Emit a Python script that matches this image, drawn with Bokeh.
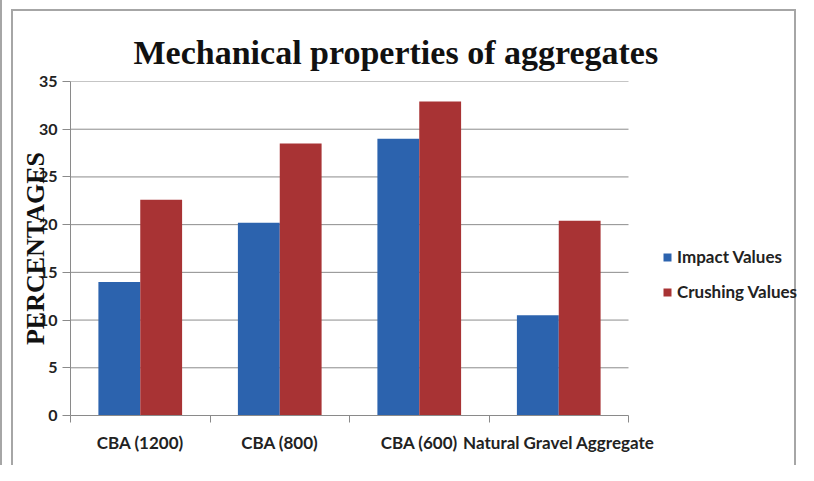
import numpy as np
from bokeh.plotting import figure
from bokeh.models import (ColumnDataSource, FixedTicker, Range1d, Legend)
from bokeh.transform import dodge
from bokeh.embed import file_html
from bokeh.resources import INLINE

categories = ["CBA (1200)", "CBA (800)", "CBA (600)", "Natural Gravel Aggregate"]
impact_values = [14.0, 20.2, 29.0, 10.5]
crushing_values = [22.6, 28.5, 32.9, 20.4]
y_ticks = [0, 5, 10, 15, 20, 25, 30, 35]
title_text = "Mechanical properties of aggregates"
y_label_text = "PERCENTAGES"

n = len(categories)
y_max = 35
xc = list(np.arange(n) + 0.5)
source = ColumnDataSource(dict(x=xc, impact=impact_values, crushing=crushing_values))
grid_src = ColumnDataSource(dict(y=y_ticks[1:]))

W, H = 798, 465
left, bottom, top = 70, 50, 81
plot_w = 558                      # pixel width of the value area (0..n)
# frame spans to the right edge so that the legend (inside the frame) is not clipped
x_end = n * (W - left) / plot_w

p = figure(width=W, height=H, output_backend="svg", toolbar_location=None,
           x_range=Range1d(0, x_end), y_range=Range1d(0, y_max),
           min_border_left=left, min_border_right=0, min_border_top=top,
           min_border_bottom=bottom)
p.outline_line_color = None
p.border_fill_color = None
p.background_fill_color = None
line_grey = "linear-gradient(#a6a6a6,#a6a6a6)"
p.styles = {
    "background-color": "white",
    "background-image": ",".join([line_grey] * 3),
    "background-size": "2px 460px, 785px 2px, 2px 460px",
    "background-position": "11px 9px, 11px 9px, 794px 9px",
    "background-repeat": "no-repeat",
    "box-shadow": "inset 13px 0 0 -11px #a6a6a6",
}

blue = "#2C63AE"
red = "#A83334"
p.segment(x0=0, x1=n, y0="y", y1="y", source=grid_src, line_color="#8c8c8c", line_width=1)
r1 = p.vbar(x=dodge("x", -0.15, range=p.x_range), top="impact", width=0.3, source=source,
            fill_color=blue, line_color=None)
r2 = p.vbar(x=dodge("x", 0.15, range=p.x_range), top="crushing", width=0.3, source=source,
            fill_color=red, line_color=None)

# title (in the panel above the frame)
p.title.text = title_text
p.title.text_font = "Liberation Serif"
p.title.text_font_style = "bold"
p.title.text_font_size = "34px"
p.title.text_color = "#111111"
p.title.align = "left"
p.title.offset = 63
p.title.standoff = 22

# x axis
p.xaxis.bounds = (0, n)
p.xaxis.ticker = FixedTicker(ticks=xc, minor_ticks=list(range(n + 1)))
p.xaxis.major_label_overrides = {float(x): c for x, c in zip(xc, categories)}
p.xaxis.major_tick_out = 0
p.xaxis.major_tick_in = 0
p.xaxis.minor_tick_out = 7
p.xaxis.minor_tick_in = 0
p.xaxis.minor_tick_line_color = "#8a8a8a"
p.xaxis.axis_line_color = "#8a8a8a"
p.xaxis.major_label_text_font = "Lato"
p.xaxis.major_label_text_font_style = "bold"
p.xaxis.major_label_text_font_size = "17px"
p.xaxis.major_label_text_color = "#222222"
p.xaxis.major_label_standoff = 9
p.xgrid.grid_line_color = None

# y axis
p.yaxis.ticker = FixedTicker(ticks=y_ticks, minor_ticks=[])
p.yaxis.major_tick_out = 8
p.yaxis.major_tick_in = 0
p.yaxis.major_tick_line_color = "#8a8a8a"
p.yaxis.axis_line_color = "#8a8a8a"
p.yaxis.major_label_text_font = "Lato"
p.yaxis.major_label_text_font_style = "bold"
p.yaxis.major_label_text_font_size = "16px"
p.yaxis.major_label_text_color = "#222222"
p.yaxis.major_label_standoff = 5
p.yaxis.axis_label = y_label_text
p.yaxis.axis_label_text_font = "Liberation Serif"
p.yaxis.axis_label_text_font_style = "bold"
p.yaxis.axis_label_text_font_size = "26px"
p.yaxis.axis_label_text_color = "#111111"
p.yaxis.axis_label_standoff = -14
p.ygrid.grid_line_color = None

legend = Legend(items=[("Impact Values", [r1]), ("Crushing Values", [r2])],
                location=(592, 113), border_line_color=None, background_fill_alpha=0,
                padding=0, margin=0, spacing=14, glyph_width=10, glyph_height=10,
                label_standoff=5, label_text_font="Lato", label_text_font_style="bold",
                label_text_font_size="17px", label_text_color="#222222")
p.add_layout(legend, "center")

open("out.html", "w").write(file_html(p, INLINE))
